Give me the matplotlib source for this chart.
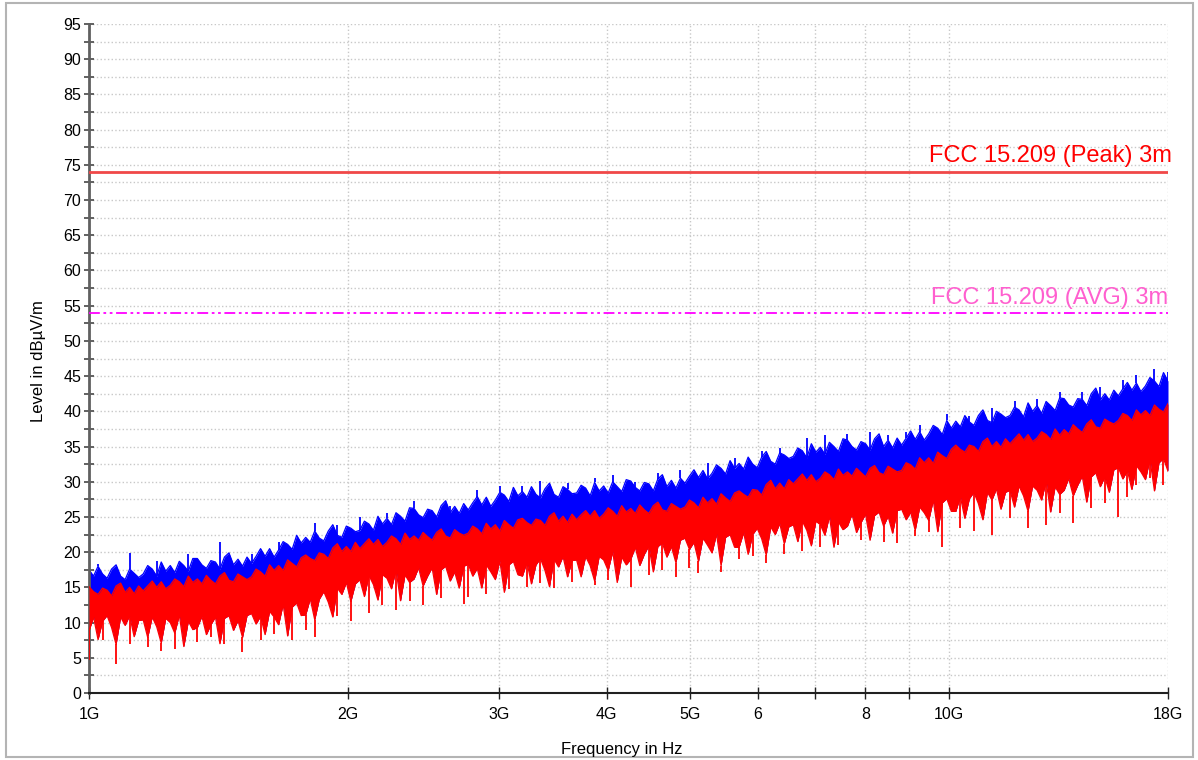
import numpy as np
import matplotlib
matplotlib.use('Agg')
import matplotlib.pyplot as plt
from matplotlib.ticker import FixedLocator, NullLocator
from matplotlib.patches import Rectangle

plt.rcParams['font.family'] = ['Liberation Sans', 'DejaVu Sans']

# sweep grid, 1 GHz .. 18 GHz (240 points)
freq = np.geomspace(1e9, 18e9, 240)

# peak detector, upper edge of the trace (dBuV/m)
peak_hi = [
    17.5, 16.6, 18.0, 16.9, 16.3, 17.6, 18.2, 16.6, 16.1, 17.6, 17.0, 16.4,
    16.9, 18.1, 17.6, 16.6, 18.6, 17.3, 18.1, 17.1, 18.7, 18.1, 17.3, 19.1,
    19.1, 18.2, 17.7, 18.8, 18.6, 17.6, 19.3, 19.9, 18.2, 19.0, 18.0, 19.3,
    18.4, 19.4, 20.5, 19.4, 20.5, 19.3, 20.3, 21.5, 21.1, 20.4, 22.4, 21.3,
    22.1, 21.4, 23.0, 22.0, 21.6, 23.0, 23.9, 22.4, 22.1, 23.7, 23.4, 22.9,
    23.1, 24.4, 24.0, 23.1, 25.1, 24.0, 24.8, 23.9, 25.6, 25.1, 24.4, 26.3,
    26.2, 25.3, 24.9, 26.1, 25.9, 25.0, 26.6, 27.3, 25.6, 26.5, 25.5, 26.9,
    26.0, 27.0, 27.9, 26.7, 27.8, 26.5, 27.4, 28.5, 28.1, 27.2, 29.2, 28.0,
    28.6, 27.8, 29.3, 28.2, 27.7, 29.0, 29.8, 28.2, 27.8, 29.3, 28.9, 28.3,
    28.4, 29.5, 29.1, 28.0, 29.9, 28.7, 29.4, 28.4, 30.0, 29.3, 28.6, 30.3,
    30.1, 29.2, 28.7, 29.9, 29.7, 28.7, 30.4, 31.0, 29.3, 30.2, 29.1, 30.5,
    29.8, 30.8, 31.7, 30.6, 31.6, 30.4, 31.2, 32.4, 31.9, 31.1, 33.0, 31.9,
    32.6, 31.8, 33.5, 32.5, 32.0, 33.5, 34.3, 32.9, 32.5, 34.1, 33.8, 33.3,
    33.6, 34.8, 34.4, 33.4, 35.4, 34.2, 34.9, 33.9, 35.6, 35.0, 34.3, 36.1,
    35.9, 35.0, 34.5, 35.7, 35.4, 34.5, 36.1, 36.8, 35.0, 35.9, 34.8, 36.2,
    35.2, 36.2, 37.2, 36.0, 37.1, 35.9, 36.8, 38.0, 37.6, 36.7, 38.7, 37.6,
    38.6, 37.8, 39.4, 38.5, 38.0, 39.4, 40.2, 38.7, 38.4, 40.0, 39.6, 39.1,
    39.4, 40.6, 40.2, 39.2, 41.2, 40.0, 40.8, 39.7, 41.4, 40.8, 40.1, 41.9,
    41.8, 40.9, 40.6, 41.8, 41.7, 40.8, 42.5, 43.3, 41.6, 42.5, 41.6, 43.0,
    42.2, 43.2, 44.1, 43.0, 44.0, 42.8, 43.6, 44.8, 44.3, 43.5, 45.5, 44.3,
]

# average detector, upper edge of the trace (dBuV/m)
avg_hi = [
    15.1, 14.4, 14.0, 14.9, 14.6, 13.8, 15.2, 15.6, 14.3, 15.0, 14.1, 15.2,
    14.5, 15.2, 15.9, 15.0, 15.8, 14.8, 15.3, 16.2, 15.8, 15.1, 16.6, 15.7,
    16.2, 15.5, 16.7, 16.0, 15.5, 16.6, 17.1, 16.0, 15.8, 16.9, 16.5, 16.1,
    16.5, 17.6, 17.2, 16.6, 18.2, 17.4, 18.1, 17.4, 18.9, 18.4, 17.9, 19.2,
    19.6, 19.1, 18.8, 19.9, 19.7, 19.1, 20.6, 21.2, 20.1, 20.8, 20.1, 21.4,
    20.5, 21.2, 21.9, 21.1, 21.8, 20.8, 21.4, 22.3, 21.9, 21.1, 22.7, 21.8,
    22.3, 21.7, 22.8, 22.2, 21.7, 22.8, 23.3, 22.3, 22.0, 23.2, 22.7, 22.4,
    22.7, 23.7, 23.3, 22.6, 24.1, 23.3, 23.9, 23.0, 24.5, 23.9, 23.4, 24.6,
    24.8, 24.2, 23.8, 24.7, 24.5, 23.8, 25.1, 25.6, 24.4, 25.1, 24.2, 25.4,
    24.6, 25.3, 25.9, 25.1, 25.9, 24.8, 25.4, 26.3, 25.8, 25.1, 26.6, 25.7,
    26.2, 25.5, 26.7, 26.0, 25.5, 26.6, 27.1, 26.0, 25.8, 26.9, 26.5, 26.1,
    26.4, 27.4, 27.0, 26.3, 27.8, 27.0, 27.6, 26.8, 28.3, 27.7, 27.2, 28.4,
    28.7, 28.2, 27.8, 28.9, 28.8, 28.1, 29.6, 30.2, 29.0, 29.8, 29.0, 30.3,
    29.7, 30.4, 31.1, 30.2, 31.0, 30.0, 30.5, 31.4, 31.0, 30.3, 31.8, 30.9,
    31.4, 30.8, 31.9, 31.3, 30.7, 31.9, 32.3, 31.3, 31.0, 32.2, 31.8, 31.4,
    31.6, 32.7, 32.4, 31.8, 33.4, 32.7, 33.4, 32.6, 34.2, 33.7, 33.3, 34.6,
    35.2, 34.6, 34.2, 35.2, 35.0, 34.3, 35.7, 36.2, 35.0, 35.7, 34.9, 36.1,
    35.4, 36.1, 36.8, 35.9, 36.7, 35.7, 36.2, 37.1, 36.7, 36.0, 37.5, 36.6,
    37.4, 36.8, 38.1, 37.5, 37.0, 38.2, 38.8, 37.8, 37.6, 38.9, 38.5, 38.2,
    38.7, 39.7, 39.4, 38.7, 40.2, 39.5, 40.1, 39.4, 40.9, 40.3, 39.9, 41.1,
]

# average detector, lower edge of the trace (dBuV/m)
avg_lo = [
    8.8, 10.8, 7.6, 10.2, 11.0, 9.3, 6.9, 10.8, 9.6, 11.0, 8.0, 10.3,
    10.4, 7.9, 10.8, 9.4, 7.1, 10.6, 10.0, 8.5, 11.1, 6.6, 10.2, 9.0,
    9.3, 10.9, 8.3, 9.7, 10.8, 7.0, 10.6, 11.0, 8.9, 10.3, 7.9, 11.0,
    11.3, 9.8, 10.9, 8.3, 11.6, 10.8, 9.7, 12.6, 8.1, 12.2, 12.8, 11.0,
    11.1, 13.4, 10.4, 13.3, 14.4, 12.9, 10.8, 14.9, 14.0, 15.7, 13.0, 15.5,
    16.1, 13.7, 16.7, 15.4, 13.2, 16.8, 16.3, 14.8, 17.5, 13.1, 16.8, 15.7,
    16.2, 17.8, 15.2, 16.6, 17.8, 14.0, 17.5, 18.0, 15.9, 17.2, 14.9, 18.0,
    18.3, 16.6, 17.7, 14.9, 18.2, 17.2, 16.1, 18.8, 14.3, 18.2, 18.7, 16.8,
    16.6, 18.6, 15.5, 18.2, 19.1, 17.4, 15.1, 19.0, 17.9, 19.4, 16.5, 18.8,
    18.9, 16.5, 19.4, 18.1, 15.9, 19.4, 18.9, 17.4, 20.1, 15.7, 19.3, 18.2,
    19.0, 20.7, 18.1, 19.7, 20.9, 17.2, 20.8, 21.3, 19.3, 20.8, 18.5, 21.7,
    22.0, 20.4, 21.4, 18.7, 22.0, 21.0, 19.9, 22.6, 18.1, 22.1, 22.5, 20.7,
    20.7, 22.8, 19.7, 22.5, 23.4, 21.9, 19.6, 23.6, 22.5, 24.1, 21.2, 23.6,
    23.9, 21.5, 24.4, 23.1, 20.9, 24.4, 23.9, 22.4, 25.1, 20.7, 24.3, 23.2,
    23.7, 25.4, 22.8, 24.2, 25.4, 21.7, 25.2, 25.7, 23.7, 25.1, 22.7, 25.9,
    26.1, 24.6, 25.7, 23.1, 26.4, 25.6, 24.5, 27.4, 22.9, 27.0, 27.6, 25.8,
    25.8, 27.9, 24.8, 27.6, 28.5, 26.9, 24.6, 28.5, 27.4, 29.0, 26.1, 28.5,
    28.8, 26.4, 29.4, 28.0, 25.8, 29.4, 28.8, 27.4, 30.1, 25.7, 29.3, 28.2,
    28.8, 30.5, 28.0, 29.5, 30.8, 27.1, 30.7, 31.3, 29.3, 30.7, 28.5, 31.7,
    32.0, 30.4, 31.6, 28.9, 32.3, 31.4, 30.3, 33.2, 28.7, 32.7, 33.3, 31.5,
]

# isolated peak-detector spikes: sweep index, level
peak_spike_idx = [2, 9, 15, 22, 29, 36, 42, 50, 55, 60, 66, 72, 80, 86, 91,
                  96, 100, 106, 112, 116, 121, 126, 131, 137, 143, 149, 153,
                  159, 163, 168, 173, 177, 181, 184, 190, 195, 200, 205, 210,
                  215, 220, 224, 229, 232, 236, 239]
peak_spike_lvl = [18.3, 19.9, 18.8, 19.7, 21.5, 19.8, 21.4, 24.2, 23.8, 25.0,
                  25.6, 27.2, 26.6, 28.8, 29.4, 29.4, 30.1, 29.8, 30.6, 30.9,
                  30.0, 31.3, 31.7, 32.6, 33.4, 34.3, 34.8, 36.2, 36.6, 36.8,
                  37.0, 36.7, 37.0, 38.0, 39.6, 39.3, 40.4, 41.5, 41.7, 42.7,
                  42.7, 43.4, 44.5, 45.1, 46.0, 45.6]

# average-detector dropouts: sweep index, level
avg_dip_idx = [0, 3, 6, 9, 13, 16, 19, 24, 27, 30, 34, 38, 41, 45, 48, 50, 55,
               58, 62, 65, 68, 71, 74, 78, 83, 84, 88, 93, 97, 100, 103, 107,
               112, 115, 120, 124, 127, 130, 133, 135, 140, 144, 147, 150, 154,
               158, 162, 166, 171, 176, 179, 183, 186, 189, 193, 196, 200, 204,
               208, 212, 215, 218, 222, 225, 228, 230, 232, 235, 238]
avg_dip_lvl = [4.7, 7.5, 4.1, 7.0, 6.5, 6.0, 6.3, 7.2, 8.0, 7.0, 5.8, 7.5, 8.4,
               7.5, 9.0, 8.0, 11.0, 10.2, 11.4, 12.5, 11.8, 13.0, 12.5, 13.5,
               12.6, 13.6, 14.0, 14.8, 15.0, 15.6, 14.9, 15.8, 15.3, 16.0, 15.0,
               16.8, 17.4, 16.5, 17.8, 17.0, 17.2, 19.0, 19.4, 18.5, 19.8, 20.2,
               20.8, 21.0, 21.7, 21.5, 21.3, 22.3, 22.8, 20.7, 23.5, 23.0, 22.4,
               24.8, 23.4, 23.9, 25.5, 24.1, 26.2, 27.0, 25.0, 27.8, 29.5, 30.6,
               29.5]

limit_peak = 74.0
limit_avg = 54.0
limit_peak_name = 'FCC 15.209 (Peak) 3m'
limit_avg_name = 'FCC 15.209 (AVG) 3m'

xtick_vals = [1e9, 2e9, 3e9, 4e9, 5e9, 6e9, 7e9, 8e9, 9e9, 10e9, 18e9]
xtick_text = ['1G', '2G', '3G', '4G', '5G', '6', '', '8', '', '10G', '18G']

BLUE = '#0000ff'
RED = '#ff0000'

fig = plt.figure(figsize=(11.98, 7.6), dpi=100)
ax = fig.add_axes([89 / 1198, 67 / 760, 1079 / 1198, 669 / 760])

peak_hi = np.array(peak_hi)
avg_hi = np.array(avg_hi)
avg_lo = np.array(avg_lo)

# peak trace (underneath)
ax.fill_between(freq, avg_lo, peak_hi, color=BLUE, lw=0, zorder=2)
ax.plot(freq, peak_hi, color=BLUE, lw=0.9, zorder=2)
ax.vlines(freq[peak_spike_idx], peak_hi[peak_spike_idx], peak_spike_lvl,
          color=BLUE, lw=1.3, zorder=2)

# average trace on top
ax.fill_between(freq, avg_lo, avg_hi, color=RED, lw=0, zorder=3)
ax.plot(freq, avg_hi, color=RED, lw=0.9, zorder=3)
ax.plot(freq, avg_lo, color=RED, lw=0.9, zorder=3)
ax.vlines(freq[avg_dip_idx], avg_dip_lvl, avg_lo[avg_dip_idx],
          color=RED, lw=1.3, zorder=3)

# limit lines
ax.axhline(limit_peak, color='#f04848', lw=2, zorder=4)
ax.axhline(limit_avg, color='#ff00ff', lw=1.3, dashes=(6, 2, 1.5, 2, 1.5, 2), zorder=4)
ax.text(1.004, limit_peak + 1.4, limit_peak_name, transform=ax.get_yaxis_transform(),
        ha='right', va='baseline', fontsize=17, color=RED)
ax.text(1.0, limit_avg + 1.2, limit_avg_name, transform=ax.get_yaxis_transform(),
        ha='right', va='baseline', fontsize=17, color='#ff5fcf')

ax.set_xscale('log')
ax.set_xlim(1e9, 18e9)
ax.set_ylim(0, 95)

ax.xaxis.set_major_locator(FixedLocator(xtick_vals))
ax.xaxis.set_minor_locator(NullLocator())
ax.set_xticklabels(xtick_text)
ax.yaxis.set_major_locator(FixedLocator(np.arange(0, 96, 5)))
ax.yaxis.set_minor_locator(FixedLocator(np.arange(2.5, 95, 5)))

ax.tick_params(axis='y', which='both', direction='inout', length=7, width=1.3,
               color='#555555', labelsize=11.5, pad=2)
ax.tick_params(axis='x', which='both', direction='inout', length=8, width=1,
               color='#222222', labelsize=11.5, pad=6)

ax.set_axisbelow(True)
ax.grid(True, which='both', axis='y', ls=':', color='#c8c8c8', lw=1)
ax.grid(True, which='major', axis='x', ls=':', color='#c8c8c8', lw=1)

for s in ('top', 'right'):
    ax.spines[s].set_visible(False)
ax.spines['left'].set_color('#606060')
ax.spines['left'].set_linewidth(2)
ax.spines['bottom'].set_color('#202020')
ax.spines['bottom'].set_linewidth(1.5)

fig.text(39 / 1198, 1 - 361 / 760, 'Level in dBµV/m', rotation=90,
         ha='center', va='center', fontsize=12)
fig.text(622 / 1198, 1 - 754 / 760, 'Frequency in Hz', ha='center',
         va='baseline', fontsize=12)

# outer frame
fig.patches.append(Rectangle((6 / 1198, 3 / 760), 1187 / 1198, 754 / 760,
                             transform=fig.transFigure, fill=False,
                             edgecolor='#b4b4b4', lw=1.5))

fig.savefig('out.png', dpi=100)
